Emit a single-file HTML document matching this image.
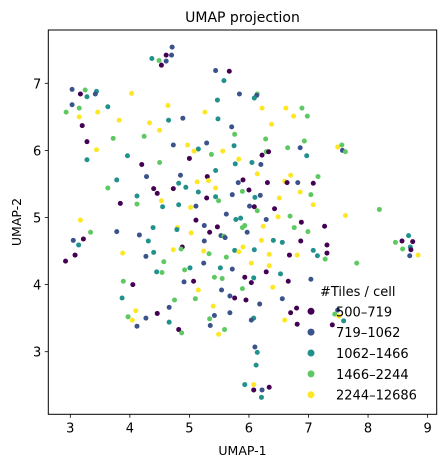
<!DOCTYPE html>
<html><head><meta charset="utf-8"><style>
body{margin:0;background:#fff}
svg{display:block;font-family:"DejaVu Sans","Liberation Sans",sans-serif}
</style></head><body>
<svg id="chart" width="445" height="468" viewBox="0 0 445 468">
<rect x="0" y="0" width="445" height="468" fill="#fff"/>
<text x="242.5" y="22" font-size="14" text-anchor="middle" fill="#000">UMAP projection</text>
<g id="points"></g>
<rect x="48.3" y="30" width="388.4" height="384.3" fill="none" stroke="#000" stroke-width="1"/>
<g id="xticks"></g>
<g id="yticks"></g>
<text x="242.5" y="455" font-size="12.5" text-anchor="middle">UMAP-1</text>
<text x="21" y="222" font-size="12.5" text-anchor="middle" transform="rotate(-90 21 222)">UMAP-2</text>
<g id="legend"></g>
</svg>
<script>
const categories = ["500–719","719–1062","1062–1466","1466–2244","2244–12686"];
const colors = ["#440154","#3b528b","#21918c","#5ec962","#fde725"];
const xTicks = [3,4,5,6,7,8,9];
const yTicks = [3,4,5,6,7];
const xs = [4.71,4.61,4.70,4.37,4.49,4.61,4.53,5.44,5.67,5.58,3.03,3.25,3.44,3.17,3.42,3.28,4.03,5.84,5.47,3.03,3.63,4.64,2.93,3.15,3.46,5.26,3.15,3.82,4.33,4.65,4.89,5.48,3.20,5.71,4.50,3.72,4.24,5.76,3.28,4.73,5.29,5.75,4.97,3.44,5.15,5.08,5.56,5.37,3.96,5.00,5.83,3.28,4.50,5.77,4.20,5.44,4.28,4.85,5.30,5.90,3.78,4.82,4.94,5.13,5.32,5.82,3.63,4.40,4.73,5.44,4.46,5.15,5.89,4.12,5.72,5.29,5.44,5.49,4.53,3.84,4.12,4.82,4.55,5.02,5.11,5.62,5.78,5.86,3.17,5.11,
6.14,6.13,6.09,6.22,6.62,6.89,6.75,6.98,6.38,6.28,6.93,6.65,6.86,7.49,7.56,7.57,7.62,6.29,6.33,6.22,6.97,6.05,6.20,6.14,6.70,7.16,6.31,6.60,6.64,6.82,7.08,6.00,6.86,6.10,6.19,7.04,6.51,6.01,6.09,6.14,6.43,7.08,8.19,7.62,6.49,6.69,6.29,
3.34,3.78,4.39,4.80,4.79,5.03,5.25,5.34,5.47,5.89,5.93,5.97,3.05,3.22,3.14,4.16,4.31,5.53,5.58,5.60,5.25,3.08,2.92,3.88,4.27,4.40,4.73,4.88,4.86,5.24,5.33,5.76,5.83,5.90,5.62,4.57,5.24,4.45,4.54,4.92,5.01,5.52,5.72,3.89,4.05,4.91,5.07,5.42,5.55,5.93,5.15,5.89,5.54,5.68,5.76,5.95,3.87,4.75,5.10,4.66,4.10,4.46,5.40,3.97,4.04,4.27,5.42,5.68,4.12,4.66,5.34,5.35,4.82,4.87,5.59,5.49,5.93,
6.88,6.24,6.76,6.99,7.27,6.21,6.41,6.56,6.87,6.09,6.34,6.68,6.81,7.08,7.15,7.28,7.31,7.31,7.81,8.46,8.57,8.68,8.75,8.58,8.71,8.72,8.70,8.84,6.04,6.34,6.29,6.53,6.08,6.04,6.40,6.66,7.04,6.18,6.56,6.80,6.70,7.44,7.49,7.51,7.59,7.40,6.08,6.04,6.60,6.81,6.10,6.14,6.12,6.08,6.08,6.22,6.34,6.21];
const ys = [7.54,7.42,7.42,7.37,7.34,7.33,7.27,7.19,7.18,7.04,6.91,6.90,6.88,6.84,6.84,6.80,6.85,6.84,6.75,6.68,6.65,6.67,6.57,6.63,6.57,6.57,6.50,6.45,6.41,6.45,6.48,6.47,6.37,6.35,6.30,6.18,6.21,6.24,6.13,6.08,6.11,6.07,6.08,6.01,6.02,5.99,5.99,5.94,5.92,5.88,5.87,5.86,5.82,5.80,5.79,5.70,5.61,5.63,5.61,5.56,5.56,5.51,5.45,5.53,5.55,5.52,5.44,5.43,5.43,5.44,5.36,5.38,5.39,5.32,5.34,5.29,5.31,5.25,5.25,5.21,5.20,5.19,5.16,5.15,5.17,5.05,4.97,4.99,4.96,4.96,
6.84,6.82,6.78,6.63,6.63,6.63,6.51,6.51,6.39,6.17,6.14,6.04,6.04,6.05,6.08,6.00,5.98,5.98,5.98,5.93,5.92,5.82,5.79,5.65,5.63,5.61,5.52,5.54,5.52,5.52,5.51,5.41,5.38,5.30,5.33,5.34,5.29,5.17,5.16,5.10,5.13,5.19,5.12,5.03,5.01,5.02,4.97,
4.78,4.79,4.85,4.85,4.82,4.77,4.88,4.78,4.86,4.85,4.88,4.78,4.66,4.68,4.59,4.74,4.65,4.73,4.72,4.70,4.65,4.44,4.35,4.47,4.42,4.48,4.52,4.56,4.53,4.50,4.46,4.51,4.49,4.56,4.41,4.34,4.32,4.19,4.18,4.22,4.25,4.25,4.23,4.05,4.00,4.04,4.05,4.11,4.09,4.11,3.92,3.94,3.92,3.83,3.80,3.77,3.80,3.77,3.79,3.66,3.61,3.57,3.68,3.52,3.47,3.50,3.54,3.58,3.38,3.44,3.49,3.39,3.33,3.28,3.33,3.26,2.51,
4.93,4.87,4.85,4.79,4.87,4.66,4.66,4.63,4.65,4.52,4.45,4.44,4.44,4.51,4.43,4.38,4.59,4.47,4.32,4.63,4.65,4.73,4.64,4.53,4.56,4.52,4.43,4.44,4.32,4.28,4.19,4.16,4.10,4.03,3.96,4.05,4.08,3.71,3.79,3.65,3.58,3.56,3.62,3.53,3.46,3.40,3.50,3.47,3.47,3.41,3.07,2.99,2.80,2.51,2.43,2.43,2.47,2.32];
const cats = [1,0,1,2,3,1,0,1,0,2,1,3,2,0,1,2,4,1,2,1,2,4,3,3,4,4,4,4,4,2,1,2,0,1,4,3,3,3,0,1,1,2,4,4,2,4,4,3,2,0,4,2,3,2,0,2,1,1,0,0,2,2,2,4,4,1,3,0,0,4,0,2,3,2,1,0,2,3,4,0,3,2,2,4,1,1,2,2,4,0,
3,1,2,4,4,3,4,3,4,3,3,3,1,4,3,1,3,3,0,0,2,2,1,4,4,3,0,4,0,1,0,0,4,2,1,3,4,1,0,3,0,4,3,4,4,3,1,
3,1,2,4,2,4,1,0,0,3,3,1,1,0,2,1,2,1,3,1,1,0,0,4,1,2,4,0,3,4,3,2,4,4,3,3,1,2,3,3,2,2,1,3,0,1,0,3,3,0,4,3,1,1,0,0,2,3,3,1,4,0,4,3,4,1,1,1,1,2,3,1,0,3,3,4,2,
0,4,3,3,0,4,2,2,0,2,4,0,4,2,2,3,0,0,3,3,0,2,0,3,2,0,1,4,4,4,0,2,2,0,4,0,1,1,1,0,0,3,1,4,2,0,2,1,4,0,1,2,2,4,0,1,0,2];

const NS = "http://www.w3.org/2000/svg";
const L = 48.3, R = 436.7, T = 30, B = 414.3;
function xScale(v){ return 70.3 + (v - 3) * 59.55; }
function yScale(v){ return 351.7 - (v - 3) * 67.1; }
function mk(tag, attrs){ const e = document.createElementNS(NS, tag); for (const k in attrs) e.setAttribute(k, attrs[k]); return e; }

const pg = document.getElementById('points');
for (let i = 0; i < xs.length; i++) {
  const c = mk('circle', {cx: xScale(xs[i]), cy: yScale(ys[i]), r: 2.5, fill: colors[cats[i]]});
  
  
  pg.appendChild(c);
}
const xg = document.getElementById('xticks');
xTicks.forEach(t => {
  const x = xScale(t);
  const ln = mk('line', {x1: x, x2: x, y1: B, y2: B + 3.5, stroke: '#000', 'stroke-width': 0.8});
  
  
  xg.appendChild(ln);
  const tx = mk('text', {x: x, y: B + 18, 'font-size': 13, 'text-anchor': 'middle'});
  tx.textContent = t;
  
  
  xg.appendChild(tx);
});
const yg = document.getElementById('yticks');
yTicks.forEach(t => {
  const y = yScale(t);
  const ln = mk('line', {x1: L - 3.5, x2: L, y1: y, y2: y, stroke: '#000', 'stroke-width': 0.8});
  
  
  yg.appendChild(ln);
  const tx = mk('text', {x: L - 7, y: y + 5, 'font-size': 13, 'text-anchor': 'end'});
  tx.textContent = t;
  
  
  yg.appendChild(tx);
});
const lg = document.getElementById('legend');
const lt = mk('text', {x: 320, y: 296, 'font-size': 13});
lt.textContent = '#Tiles / cell';


lg.appendChild(lt);
categories.forEach((name, i) => {
  const y = 311.3 + i * 20.85;
  const c = mk('circle', {cx: 311, cy: y, r: 3.5, fill: colors[i]});
  
  
  lg.appendChild(c);
  const tx = mk('text', {x: 336, y: y + 5, 'font-size': 13});
  tx.textContent = name;
  
  
  lg.appendChild(tx);
});
</script>
</body></html>
